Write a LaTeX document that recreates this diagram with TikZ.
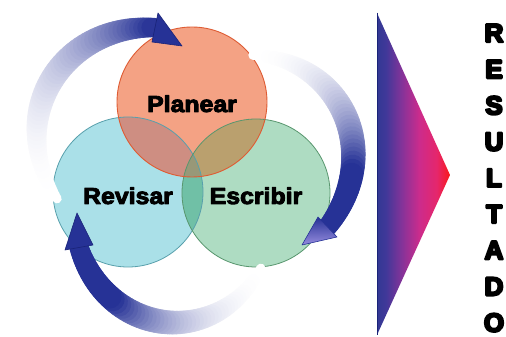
\documentclass[tikz,border=0pt]{standalone}
\usepackage{fontspec}
\setmainfont{Liberation Sans}
\newfontfamily\lblfont{Liberation Sans Bold}
\newfontfamily\resfont{Liberation Sans Bold}
\usetikzlibrary{calc}
\newcommand\heavytext[2]{\special{pdf:literal direct 2 Tr #1 w 1 j}#2\special{pdf:literal direct 0 Tr}}
\definecolor{arrowblue}{RGB}{38,50,150}
\definecolor{arrowdark}{RGB}{25,35,120}
\definecolor{arrowlav}{RGB}{150,140,222}
\definecolor{pfill}{RGB}{244,162,132}
\definecolor{rfill}{RGB}{170,224,232}
\definecolor{efill}{RGB}{174,220,194}
\definecolor{prfill}{RGB}{206,142,130}
\definecolor{pefill}{RGB}{186,160,110}
\definecolor{refill}{RGB}{112,192,166}
\definecolor{cfill}{RGB}{152,152,120}
\definecolor{pborder}{RGB}{222,92,52}
\definecolor{rborder}{RGB}{88,160,172}
\definecolor{eborder}{RGB}{88,150,110}
\pgfdeclarehorizontalshading{resshade}{100bp}{rgb(0bp)=(0.2,0.22,0.58); rgb(25bp)=(0.2,0.22,0.58); rgb(31bp)=(0.25,0.22,0.6); rgb(42bp)=(0.52,0.2,0.6); rgb(54bp)=(0.8,0.17,0.55); rgb(66bp)=(0.9,0.15,0.42); rgb(75bp)=(0.98,0.1,0.1); rgb(100bp)=(0.98,0.1,0.1)}
\tikzset{
  lbl/.style={font=\lblfont\fontsize{23}{23}\selectfont, anchor=base, text=black, inner sep=0pt},
  resletter/.style={font=\resfont\fontsize{26}{26}\selectfont, anchor=base, text=black, inner sep=0pt},
  headfill/.style={fill=arrowblue, draw=arrowdark, line width=0.6pt, line join=round},
}
% #1 start angle, #2 end angle, #3 start radius, #4 end radius, #5 bump, #6 fade length
\newcommand\myband[6]{%
  \foreach \i in {0,...,59}{%
    \pgfmathsetmacro\ta{\i/60}%
    \pgfmathsetmacro\tb{(\i+1)/60}%
    \pgfmathsetmacro\tm{(\i+0.5)/60}%
    \pgfmathsetmacro\aa{#1+(#2-#1)*\ta}%
    \pgfmathsetmacro\ab{#1+(#2-#1)*\tb}%
    \pgfmathsetmacro\ra{#3+(#4-#3)*\ta+#5*sin(180*\ta)}%
    \pgfmathsetmacro\rb{#3+(#4-#3)*\tb+#5*sin(180*\tb)}%
    \pgfmathsetmacro\w{9+10*\tm+10*sin(180*\tm)}%
    \pgfmathsetmacro\p{100*min(1,\tm/#6)^2.5}%
    \draw[line width=\w pt, draw=arrowblue!\p!white, line cap=round] ($(C)+(\aa:\ra)$) -- ($(C)+(\ab:\rb)$);
  }%
}
\begin{document}
\begin{tikzpicture}[x=1pt,y=1pt]
\useasboundingbox (0,0) rectangle (506,337);
\fill[white] (0,0) rectangle (506,337);
\coordinate (C) at (192,167);
\coordinate (P) at (192,235);
\coordinate (R) at (128,145);
\coordinate (E) at (256,144);
% circles
\fill[rfill] (R) circle (75);
\fill[efill] (E) circle (74);
\fill[pfill] (P) circle (75);
\begin{scope}
  \clip (R) circle (75);
  \fill[refill] (E) circle (74);
\end{scope}
\begin{scope}
  \clip (P) circle (75);
  \fill[prfill] (R) circle (75);
  \fill[pefill] (E) circle (74);
  \clip (R) circle (75);
  \fill[cfill] (E) circle (74);
\end{scope}
\draw[rborder, line width=0.8pt] (R) circle (75);
\draw[eborder, line width=0.8pt] (E) circle (74);
\draw[pborder, line width=0.9pt] (P) circle (75);
% arrows
\myband{192}{104.6}{138}{147.2}{24}{1.0}
\myband{62}{-22.8}{130}{147}{24}{0.75}
\myband{-55}{-145.6}{120}{137}{26}{0.75}
\coordinate (h1a) at (158,324); \coordinate (h1t) at (182,291); \coordinate (h1b) at (152,295);
\coordinate (h2a) at (318,120); \coordinate (h2t) at (302,92); \coordinate (h2b) at (337,100);
\coordinate (h3a) at (65,87); \coordinate (h3t) at (77,124); \coordinate (h3b) at (93,92);
\fill[headfill] (h1a) -- (h1t) -- (h1b) -- cycle;
\shade[top color=arrowblue, bottom color=arrowlav, draw=arrowblue, line width=0.6pt, line join=round] (h2a) -- (h2t) -- (h2b) -- cycle;
\fill[headfill] (h3a) -- (h3t) -- (h3b) -- cycle;
% labels
\node[lbl] (lp) at (192,225) {\scalebox{1.08}[1]{\heavytext{0.9}{Planear}}};
\node[lbl] (lr) at (128,133) {\scalebox{1.08}[1]{\heavytext{0.9}{Revisar}}};
\node[lbl] (le) at (256,133) {\scalebox{1.08}[1]{\heavytext{0.9}{Escribir}}};
% result triangle
\coordinate (tt) at (377,324);
\coordinate (tb) at (377,2);
\coordinate (tp) at (450,162);
\shade[shading=resshade] (tt) -- (tp) -- (tb) -- cycle;
\draw[arrowdark, line width=1pt] (tt) -- (tb);
% RESULTADO
\foreach \L [count=\k from 0] in {R,E,S,U,L,T,A,D,O}{
  \node[resletter] (res\k) at (494,{295-36.2*\k}) {\heavytext{2.2}{\L}};
}
\end{tikzpicture}
\end{document}
